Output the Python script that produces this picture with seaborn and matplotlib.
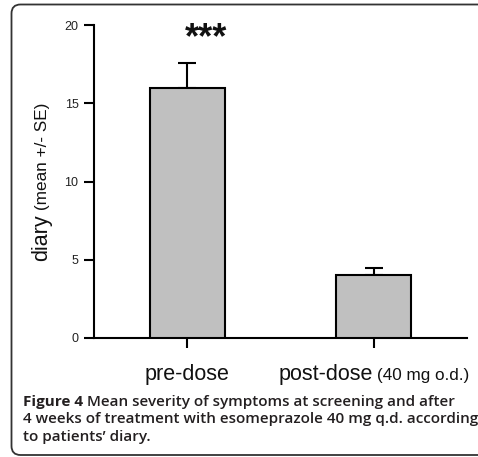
import numpy as np
import pandas as pd
import seaborn as sns
import matplotlib
matplotlib.use("Agg")
import matplotlib.pyplot as plt
from matplotlib.patches import PathPatch
from matplotlib.path import Path
from matplotlib.transforms import IdentityTransform

# Chart data
groups = ["pre-dose", "post-dose"]
group_notes = ["", "(40 mg o.d.)"]
means = [16.0, 4.0]
se = [1.6, 0.5]
yticks = [0, 5, 10, 15, 20]
significance = "***"
ylabel_main = "diary"
ylabel_note = "(mean +/- SE)"
caption_bold = "Figure 4"
caption_lines = [
    "Mean severity of symptoms at screening and after",
    "4 weeks of treatment with esomeprazole 40 mg q.d. according",
    "to patients\u2019 diary.",
]

sns.set_style("ticks")
plt.rcParams["font.family"] = ["Liberation Sans", "DejaVu Sans"]

W, H, DPI = 478, 457, 100
fig = plt.figure(figsize=(W / DPI, H / DPI), dpi=DPI)
ax = fig.add_axes([94 / W, (H - 338) / H, (467 - 94) / W, (338 - 25) / H])

df = pd.DataFrame({"group": groups, "mean": means, "se": se})
sns.barplot(data=df, x="group", y="mean", order=groups, color="#c0c0c0",
            saturation=1, width=0.4, edgecolor="black", linewidth=1.5,
            errorbar=None, ax=ax, zorder=3)
ax.errorbar(np.arange(len(groups)), df["mean"], yerr=[np.zeros(len(groups)), df["se"]],
            fmt="none", ecolor="black", elinewidth=1.5, capsize=6.5, capthick=1.5, zorder=2)

ax.set_xlim(-0.5, 1.5)
ax.set_ylim(0, 20)
ax.set_yticks(yticks)
ax.set_yticklabels([str(t) for t in yticks], fontsize=9, color="#222222")
ax.set_xticks(range(len(groups)))
ax.set_xticklabels([""] * len(groups))
ax.set_xlabel("")
ax.set_ylabel("")
ax.tick_params(axis="both", direction="out", length=7.2, width=1.5, color="black", pad=4)
sns.despine(ax=ax)
for side in ("left", "bottom"):
    ax.spines[side].set_linewidth(1.5)
    ax.spines[side].set_color("black")

# significance marker above the first bar
ax.text(0.1, 18.55, significance, ha="center", va="baseline", fontsize=26,
        fontweight="bold", color="#111111")

fig.canvas.draw()
renderer = fig.canvas.get_renderer()


def text_width(s, size, **kw):
    t = fig.text(0, 0, s, fontsize=size, transform=IdentityTransform(), **kw)
    w = t.get_window_extent(renderer).width
    t.remove()
    return w


MAIN, NOTE = 15.5, 12.3
axis_y = ax.transData.transform((0, 0))[1]

# two-part category labels centred under each bar
for i, (name, note) in enumerate(zip(groups, group_notes)):
    cx = ax.transData.transform((i, 0))[0]
    wm = text_width(name, MAIN)
    wn = text_width(note, NOTE) if note else 0
    gap = text_width("a a", NOTE) - text_width("aa", NOTE) if note else 0
    x0 = cx - (wm + gap + wn) / 2
    yb = axis_y - 42
    fig.text(x0, yb, name, fontsize=MAIN, ha="left", va="baseline",
             transform=IdentityTransform(), color="#111111")
    if note:
        fig.text(x0 + wm + gap, yb, note, fontsize=NOTE, ha="left", va="baseline",
                 transform=IdentityTransform(), color="#111111")

# two-part y-axis label, rotated and centred on the axis
cy = (ax.transData.transform((0, 0))[1] + ax.transData.transform((0, 20))[1]) / 2
wm = text_width(ylabel_main, MAIN)
wn = text_width(ylabel_note, NOTE)
gap = text_width("a a", NOTE) - text_width("aa", NOTE)
y0 = cy - (wm + gap + wn) / 2
fig.text(47, y0, ylabel_main, fontsize=MAIN, rotation=90, rotation_mode="anchor",
         ha="left", va="baseline", transform=IdentityTransform(), color="#111111")
fig.text(47, y0 + wm + gap, ylabel_note, fontsize=NOTE, rotation=90, rotation_mode="anchor",
         ha="left", va="baseline", transform=IdentityTransform(), color="#111111")

# caption
CAP = 11
cap_font = ["Open Sans", "DejaVu Sans"]
cap_color = "#231f20"
baselines = [H - 406, H - 423, H - 441]
wb = text_width(caption_bold + " ", CAP, family=cap_font, fontweight="bold")
fig.text(23, baselines[0], caption_bold, fontsize=CAP, family=cap_font, fontweight="bold",
         ha="left", va="baseline", transform=IdentityTransform(), color=cap_color)
for k, line in enumerate(caption_lines):
    x = 23 + wb if k == 0 else 23
    fig.text(x, baselines[k], line, fontsize=CAP, family=cap_font, fontweight="semibold",
             ha="left", va="baseline", transform=IdentityTransform(), color=cap_color)

# open frame (left, top and bottom edges with rounded corners) around the panel
left, top, bottom, right, r = 11.5, H - 4.5, 2.0, W + 20, 9
verts = [(right, top), (left + r, top), (left, top), (left, top - r),
         (left, bottom + r), (left, bottom), (left + r, bottom), (right, bottom)]
codes = [Path.MOVETO, Path.LINETO, Path.CURVE3, Path.CURVE3,
         Path.LINETO, Path.CURVE3, Path.CURVE3, Path.LINETO]
frame = PathPatch(Path(verts, codes), transform=IdentityTransform(), facecolor="none",
                  edgecolor="#333333", linewidth=1.3, clip_on=False)
fig.add_artist(frame)

fig.savefig("out.png", dpi=DPI)
